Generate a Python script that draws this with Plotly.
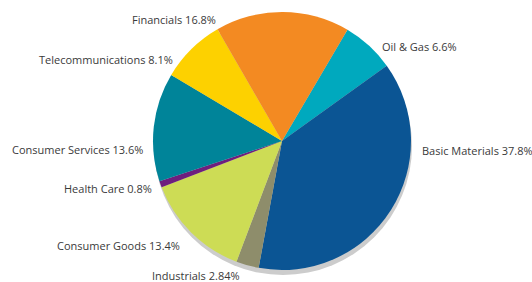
import plotly.graph_objects as go

sectors = ["Oil & Gas", "Basic Materials", "Industrials", "Consumer Goods",
           "Health Care", "Consumer Services", "Telecommunications", "Financials"]
shares = [6.6, 37.8, 2.84, 13.4, 0.8, 13.6, 8.1, 16.8]
share_labels = ["6.6%", "37.8%", "2.84%", "13.4%", "0.8%", "13.6%", "8.1%", "16.8%"]
colors = ["#00a9be", "#0b5594", "#8e8d6b", "#cddc55",
          "#6e1f7e", "#008499", "#fdd100", "#f38a22"]

W, H = 532, 282
cx, cy, r = 282, 141, 129

def dom(cx, cy, r):
    return dict(x=[(cx - r) / W, (cx + r) / W], y=[1 - (cy + r) / H, 1 - (cy - r) / H])

fig = go.Figure()
# shadow
fig.add_trace(go.Pie(values=[1], labels=["shadow"], marker=dict(colors=["#cccccc"], line=dict(width=0)),
                     textinfo="none", hoverinfo="skip", domain=dom(cx + 1, cy + 5, r), sort=False,
                     showlegend=False))
fig.add_trace(go.Pie(values=shares, labels=sectors, marker=dict(colors=colors, line=dict(width=0)),
                     textinfo="none", sort=False, direction="clockwise", rotation=30.5,
                     domain=dom(cx, cy, r), showlegend=False))

# label positions (px): x, y, anchor
label_pos = {
    "Oil & Gas": (380, 47, "left"),
    "Basic Materials": (420, 150, "left"),
    "Industrials": (150, 275, "left"),
    "Consumer Goods": (182, 245, "right"),
    "Health Care": (154, 188, "right"),
    "Consumer Services": (145, 149, "right"),
    "Telecommunications": (175, 60, "right"),
    "Financials": (218, 19, "right"),
}
for name, lab in zip(sectors, share_labels):
    x, y, anc = label_pos[name]
    fig.add_annotation(x=x / W, y=1 - y / H, xref="paper", yref="paper",
                       text=f"{name} {lab}", showarrow=False, xanchor=anc, yanchor="middle",
                       font=dict(family="Open Sans", size=11, color="#3a3a3a"))

fig.update_layout(width=W, height=H, margin=dict(l=0, r=0, t=0, b=0),
                  paper_bgcolor="white", plot_bgcolor="white")
fig.write_html("out.html", config={"displayModeBar": False},
               post_script="document.body.style.margin='0';document.body.style.overflow='hidden';")
